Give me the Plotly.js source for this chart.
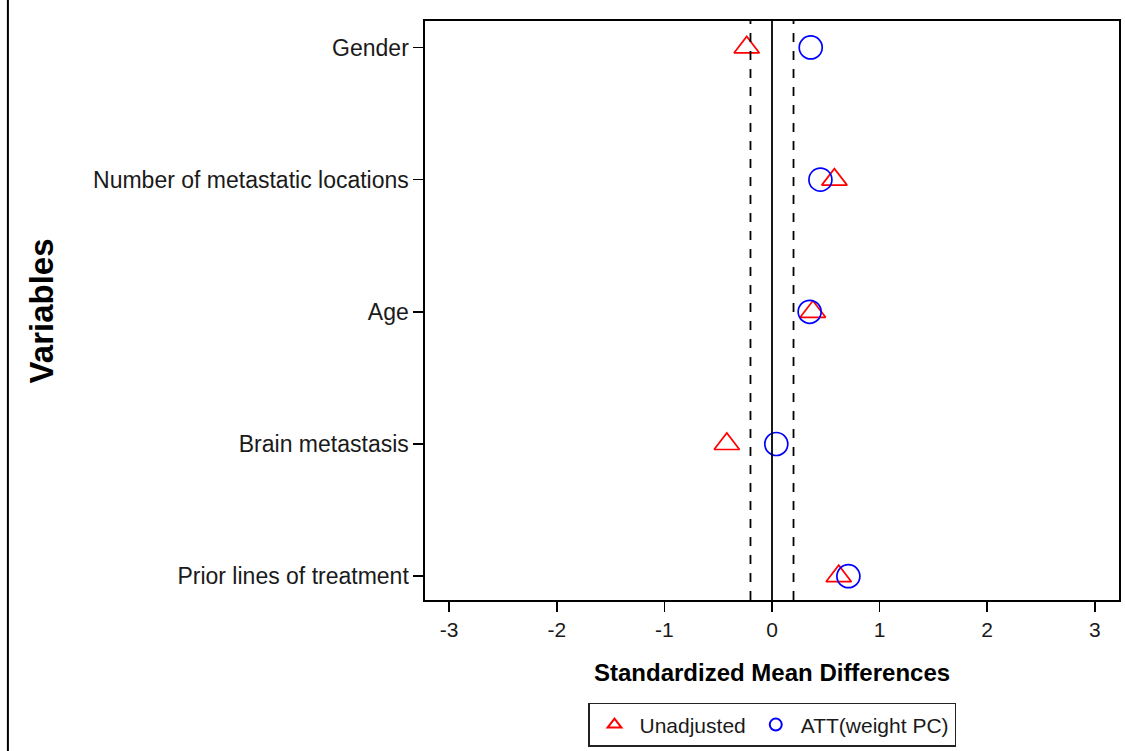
<!DOCTYPE html>
<html>
<head>
<meta charset="utf-8">
<script src="https://cdn.plot.ly/plotly-3.0.1.min.js"></script>
<style>html,body{margin:0;padding:0;background:#fff;}#chart{width:1125px;height:751px;}</style>
</head>
<body>
<div id="chart"></div>
<script>
const variables = ["Gender", "Number of metastatic locations", "Age", "Brain metastasis", "Prior lines of treatment"];
const unadjusted = [-0.235, 0.58, 0.38, -0.42, 0.62];
const attWeightPC = [0.36, 0.45, 0.35, 0.04, 0.71];
const xTicks = [-3, -2, -1, 0, 1, 2, 3];
const thresholds = [-0.2, 0.2];

const font = "Liberation Sans, Arial, sans-serif";
const traces = [
  {x: unadjusted, y: variables, type: "scatter", mode: "markers", name: "Unadjusted",
   marker: {symbol: "triangle-up-open", size: 22, color: "#ff0000", line: {width: 1.7, color: "#ff0000"}}},
  {x: attWeightPC, y: variables, type: "scatter", mode: "markers", name: "ATT(weight PC)",
   marker: {symbol: "circle-open", size: 23, color: "#0000ff", line: {width: 1.7, color: "#0000ff"}}}
];
const shapes = thresholds.map(t => ({type: "line", xref: "x", yref: "paper", x0: t, x1: t, y0: 0, y1: 1,
  line: {color: "#000", width: 1.8, dash: "dash"}}));
shapes.push({type: "line", xref: "x", yref: "paper", x0: 0, x1: 0, y0: 0, y1: 1, line: {color: "#000", width: 1.8}});
shapes.push({type: "line", xref: "paper", yref: "paper", x0: -0.601, x1: -0.601, y0: 1.04, y1: -0.27, line: {color: "#000", width: 2}});

const layout = {
  width: 1125, height: 751,
  margin: {l: 425, r: 6, t: 21, b: 151},
  paper_bgcolor: "#fff", plot_bgcolor: "#fff",
  font: {family: font, color: "#1a1a1a", size: 22},
  showlegend: true,
  legend: {orientation: "h", x: 0.5, xanchor: "center", yref: "container", y: 0.064, yanchor: "top",
    bordercolor: "#222", borderwidth: 1.5, font: {size: 21}, itemwidth: 40, itemsizing: "constant"},
  xaxis: {range: [-3.225, 3.225], tickvals: xTicks, ticktext: xTicks.map(String),
    ticks: "outside", ticklen: 10, tickwidth: 1.6, tickcolor: "#000",
    showline: true, linecolor: "#000", linewidth: 1.6, mirror: true,
    showgrid: false, zeroline: false, tickfont: {size: 21}},
  yaxis: {type: "category", categoryorder: "array", categoryarray: variables,
    range: [4.18, -0.2], ticks: "outside", ticklen: 10, tickwidth: 1.6, tickcolor: "#000",
    showline: true, linecolor: "#000", linewidth: 1.6, mirror: true,
    showgrid: false, zeroline: false, tickfont: {size: 23}},
  shapes: shapes,
  annotations: [
    {text: "<b>Standardized Mean Differences</b>", xref: "paper", yref: "paper", x: 0.5, y: -0.126,
     xanchor: "center", yanchor: "middle", showarrow: false, font: {size: 24, color: "#000"}},
    {text: "<b>Variables</b>", xref: "paper", yref: "paper", x: -0.552, y: 0.5,
     xanchor: "center", yanchor: "middle", textangle: -90, showarrow: false, font: {size: 33, color: "#000"}}
  ]
};
Plotly.newPlot("chart", traces, layout, {displayModeBar: false, staticPlot: true});
</script>
</body>
</html>
